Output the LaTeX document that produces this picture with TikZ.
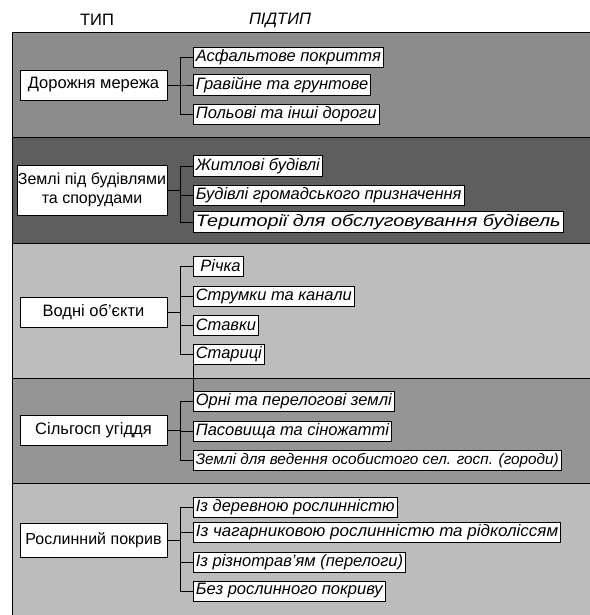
\documentclass[tikz,border=0pt]{standalone}
\usepackage{fontspec}
\setmainfont{Liberation Sans}
\usetikzlibrary{positioning}

\definecolor{bandroad}{HTML}{8C8C8C}
\definecolor{bandbuild}{HTML}{5E5E5E}
\definecolor{bandwater}{HTML}{BDBDBD}
\definecolor{bandagri}{HTML}{959595}
\definecolor{bandveg}{HTML}{BCBCBC}

\tikzset{
  typebox/.style={draw, fill=white, minimum width=147pt, minimum height=30pt,
    align=center, inner sep=2pt, font=\fontsize{16.5}{18}\selectfont},
  subbox/.style={draw, fill=white, anchor=west, minimum height=20pt,
    inner sep=2.5pt, font=\fontsize{16.5}{18}\selectfont\itshape},
  widebox/.style={subbox, font=\fontsize{16.5}{18}\selectfont\itshape\addfontfeature{FakeStretch=1.2}},
  band/.style={draw, thick},
}

\begin{document}
\begin{tikzpicture}[x=1pt, y=-1pt, semithick]
  \useasboundingbox (0,0) rectangle (589,615);
  \fill[white] (0,0) rectangle (589,615);

  % bands
  \draw[band, fill=bandroad] (12,32) rectangle (600,137);
  \draw[band, fill=bandbuild] (12,137) rectangle (600,243);
  \draw[band, fill=bandwater] (12,243) rectangle (600,378);
  \draw[band, fill=bandagri] (12,378) rectangle (600,483);
  \draw[band, fill=bandveg] (12,483) rectangle (600,630);

  % headings
  \node[font=\fontsize{16.5}{18}\selectfont] (htype) at (97,20) {ТИП};
  \node[font=\fontsize{16.5}{18}\selectfont\itshape] (hsub) at (280,20) {ПІДТИП};

  % road network
  \node[typebox] (road) at (93.5,85) {Дорожня мережа};
  \node[subbox] (road1) at (193,57) {Асфальтове покриття};
  \node[subbox] (road2) at (193,85) {Гравійне та грунтове};
  \node[subbox] (road3) at (193,114) {Польові та інші дороги};

  % buildings
  \node[typebox, minimum height=50pt, inner sep=1pt, font=\fontsize{16}{19}\selectfont] (build) at (92,190) {Землі під будівлями\\та спорудами};
  \node[subbox] (build1) at (193,166) {Житлові будівлі};
  \node[subbox] (build2) at (193,195) {Будівлі громадського призначення};
  \node[widebox] (build3) at (193,222) {Території для обслуговування будівель};

  % water
  \node[typebox] (water) at (93.5,312) {Водні об’єкти};
  \node[subbox] (water1) at (193,266) {~Річка};
  \node[subbox] (water2) at (193,296) {Струмки та канали};
  \node[subbox] (water3) at (193,325) {Ставки};
  \node[subbox] (water4) at (193,354) {Стариці};

  % agriculture
  \node[typebox] (agri) at (93.5,430) {Сільгосп угіддя};
  \node[subbox] (agri1) at (193,401) {Орні та перелогові землі};
  \node[subbox] (agri2) at (193,431) {Пасовища та сіножатті};
  \node[subbox, font=\fontsize{15.3}{17}\selectfont\itshape] (agri3) at (193,460) {Землі для ведення особистого сел. госп. (городи)};

  % vegetation
  \node[typebox, minimum height=34pt, font=\fontsize{16}{18}\selectfont] (veg) at (93.5,540) {Рослинний покрив};
  \node[subbox] (veg1) at (193,507) {Із деревною рослинністю};
  \node[subbox, font=\fontsize{16.5}{18}\selectfont\itshape\addfontfeature{FakeStretch=1.03}] (veg2) at (193,532) {Із чагарниковою рослинністю та рідколіссям};
  \node[subbox] (veg3) at (193,562) {Із різнотрав’ям (перелоги)};
  \node[subbox] (veg4) at (193,591) {Без рослинного покриву};

  \newcommand{\branches}[2]{
    \foreach \s in {#2}
      \draw (#1.east) -- (#1.east -| 180,0) |- (\s.west);
  }

  \branches{road}{road1,road2,road3}
  \branches{build}{build1,build2,build3}
  \branches{water}{water1,water2,water3,water4}
  \branches{agri}{agri1,agri2,agri3}
  \branches{veg}{veg1,veg2,veg3,veg4}
  \draw (water4.south west) -- (agri1.north west);
\end{tikzpicture}
\end{document}
